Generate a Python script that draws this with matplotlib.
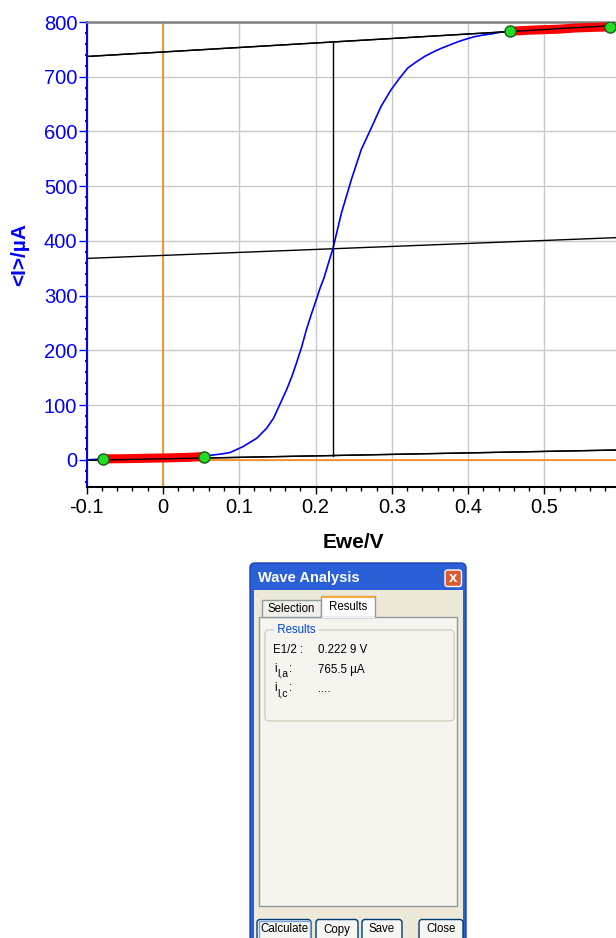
import numpy as np
import matplotlib.pyplot as plt
from matplotlib.patches import Rectangle, FancyBboxPatch
from matplotlib.ticker import MultipleLocator

plt.rcParams['font.family'] = ['Liberation Sans', 'DejaVu Sans']

# волна: Ewe/V и <I>/uA
ewe = np.array([-0.100, -0.078, -0.050, -0.020, 0.000, 0.030, 0.054, 0.060, 0.075, 0.088,
                0.105, 0.123, 0.136, 0.145, 0.153, 0.162, 0.169, 0.175, 0.182, 0.188,
                0.195, 0.201, 0.206, 0.211, 0.223, 0.234, 0.247, 0.260, 0.273, 0.286,
                0.299, 0.310, 0.321, 0.332, 0.343, 0.354, 0.365, 0.376, 0.387, 0.398,
                0.408, 0.419, 0.430, 0.441, 0.452, 0.455, 0.480, 0.500, 0.520, 0.540,
                0.560, 0.586])
cur = np.array([0.0, 1.8, 2.2, 3.0, 3.5, 4.5, 6.0, 8.0, 10.5, 13.4,
                24.3, 39.6, 57.9, 76.2, 100.5, 128.0, 152.3, 176.8, 207.0, 237.7,
                268.0, 292.5, 314.0, 332.0, 387.0, 451.0, 512.0, 567.0, 606.0, 646.0,
                676.0, 697.0, 716.0, 727.0, 737.0, 745.0, 752.0, 758.0, 764.0, 769.0,
                773.0, 776.0, 778.0, 781.0, 783.0, 783.0, 785.0, 786.0, 787.0, 789.0,
                790.0, 791.0])

# выбранные участки (красные) и точки (зелёные)
sel_lo = (-0.078, 0.054)
sel_hi = (0.455, 0.586)
pts_e = [-0.078, 0.054, 0.455, 0.586]
pts_i = [1.8, 6.0, 783.0, 791.0]

# касательные
line_e = [-0.100, 0.594]
upper_i = [737.0, 794.0]
lower_i = [-0.8, 18.0]
e12 = 0.2229

fig = plt.figure(figsize=(6.16, 9.38), dpi=100)
W, H = 616.0, 938.0
ax = fig.add_axes([86.7 / W, 1 - 486.7 / H, (W - 86.7) / W, (486.7 - 22) / H])
ax.set_xlim(-0.1, 0.594)
ax.set_ylim(-49, 800)

ax.grid(True, color='#c8c8c8', lw=1, zorder=0)
ax.set_axisbelow(True)
ax.axvline(0, color='#ff8000', lw=1.1, zorder=1.5)
ax.axhline(0, color='#ff8000', lw=1.1, zorder=1.5)

mid_i = [(a + b) / 2 for a, b in zip(upper_i, lower_i)]
ax.plot(line_e, upper_i, color='black', lw=1, zorder=2)
ax.plot(line_e, lower_i, color='black', lw=1, zorder=2)
ax.plot(line_e, mid_i, color='black', lw=1, zorder=2)

ax.plot(ewe, cur, color='blue', lw=1.2, zorder=3)
for a, b in (sel_lo, sel_hi):
    m = (ewe >= a) & (ewe <= b)
    ax.plot(ewe[m], cur[m], color='red', lw=6.5, solid_capstyle='butt', zorder=4)
ax.plot(line_e, lower_i, color='black', lw=1, zorder=5)
ax.plot(line_e, upper_i, color='black', lw=1, zorder=5)
ax.plot([e12, e12], [np.interp(e12, line_e, lower_i), np.interp(e12, line_e, upper_i)],
        color='black', lw=1, zorder=5)
ax.plot(pts_e, pts_i, 'o', ms=8, mfc='#22dd22', mec='#1a5a1a', mew=1, zorder=6)

ax.xaxis.set_minor_locator(MultipleLocator(0.02))
ax.yaxis.set_major_locator(MultipleLocator(100))
ax.yaxis.set_minor_locator(MultipleLocator(20))
ax.set_xticks(np.arange(-0.1, 0.55, 0.1))
ax.set_xticklabels(['-0.1', '0', '0.1', '0.2', '0.3', '0.4', '0.5'])
ax.tick_params(axis='x', which='major', length=5, width=1, labelsize=14.5, pad=3, colors='black')
ax.tick_params(axis='x', which='minor', length=3, width=1, colors='black')
ax.tick_params(axis='y', which='major', length=5.8, width=1, labelsize=14.5, pad=1, colors='blue')
ax.tick_params(axis='y', which='minor', length=1.5, width=1.5, colors='blue')

ax.spines['right'].set_visible(False)
ax.spines['top'].set_color('#808080')
ax.spines['top'].set_linewidth(1.8)
ax.spines['bottom'].set_color('black')
ax.spines['bottom'].set_linewidth(1.5)
ax.spines['left'].set_color('blue')
ax.spines['left'].set_linewidth(1.5)

fig.text(20 / W, 1 - 254 / H, '<I>/µA', rotation=90, ha='center', va='center',
         color='blue', fontsize=15, fontweight='bold')
fig.text(353 / W, 1 - 542 / H, 'Ewe/V', ha='center', va='center',
         color='black', fontsize=15, fontweight='bold')

# окно Wave Analysis
ov = fig.add_axes([0, 0, 1, 1], zorder=10)
ov.set_xlim(0, W)
ov.set_ylim(H, 0)
ov.axis('off')
ov.patch.set_alpha(0)

ov.add_patch(FancyBboxPatch((250, 563), 216, 385, boxstyle='round,pad=0,rounding_size=5',
                            fc='#2a5fd8', ec='#1a44b0', lw=1))
ov.add_patch(Rectangle((253.5, 590), 209, 360, fc='#ece9d8', ec='none'))
ov.text(257.5, 578, 'Wave Analysis', color='white', fontsize=10.5, fontweight='bold',
        ha='left', va='center')
ov.add_patch(FancyBboxPatch((445, 570), 16.5, 16.5, boxstyle='round,pad=0,rounding_size=2.5',
                            fc='#dc5a32', ec='white', lw=1))
ov.text(453.3, 578.3, 'x', color='white', fontsize=11, fontweight='bold',
        ha='center', va='center')

# вкладки
ov.add_patch(Rectangle((259, 617), 198, 289, fc='#f5f4ef', ec='#919b9c', lw=1))
ov.add_patch(Rectangle((262, 600), 59, 17, fc='#f1f0ea', ec='#919b9c', lw=1))
ov.text(291.5, 609, 'Selection', fontsize=8.3, ha='center', va='center')
ov.add_patch(Rectangle((321, 596.5), 54, 21, fc='#fcfcfe', ec='#919b9c', lw=1))
ov.add_patch(Rectangle((321.5, 617), 53, 1.5, fc='#fcfcfe', ec='none'))
ov.add_patch(Rectangle((321, 596), 54, 2.5, fc='#f5a93a', ec='none'))
ov.text(348, 606.5, 'Results', fontsize=8.3, ha='center', va='center')

# группа результатов
ov.add_patch(FancyBboxPatch((265, 630), 189, 91, boxstyle='round,pad=0,rounding_size=4',
                            fc='none', ec='#d0d0bf', lw=1))
ov.text(274, 630, ' Results ', fontsize=8.3, color='#0046d5', ha='left', va='center',
        bbox=dict(fc='#f5f4ef', ec='none', pad=0))

ov.text(273, 650, 'E1/2 :', fontsize=8.3, ha='left', va='center')
res_subs = ['l,a', 'l,c']
for k, sub in enumerate(res_subs):
    yy = 669.5 + 19.5 * k
    ov.text(274, yy - 1, 'i', fontsize=8.3, ha='left', va='center')
    ov.text(277, yy + 4, sub, fontsize=7.5, ha='left', va='center')
    ov.text(289.5, yy - 1, ':', fontsize=8.3, ha='left', va='center')
res_values = ['0.222 9 V', '765.5 µA', '....']
for k, vl in enumerate(res_values):
    ov.text(318, 650 + 19.5 * k, vl, fontsize=8.3, ha='left', va='center')

# кнопки
buttons = ['Calculate', 'Copy', 'Save', 'Close']
btn_x = [257, 316, 362, 419]
btn_w = [54, 42, 40, 44]
for name, bx, bw in zip(buttons, btn_x, btn_w):
    ov.add_patch(FancyBboxPatch((bx, 919.5), bw, 22, boxstyle='round,pad=0,rounding_size=3',
                                fc='#f6f6f2', ec='#003c74', lw=1))
    ov.text(bx + bw / 2, 929.5, name, fontsize=8.3, ha='center', va='center')
ov.add_patch(Rectangle((258.5, 921), 51, 19, fc='none', ec='#7aa0e6', lw=1))

fig.savefig('out.png', dpi=100)
